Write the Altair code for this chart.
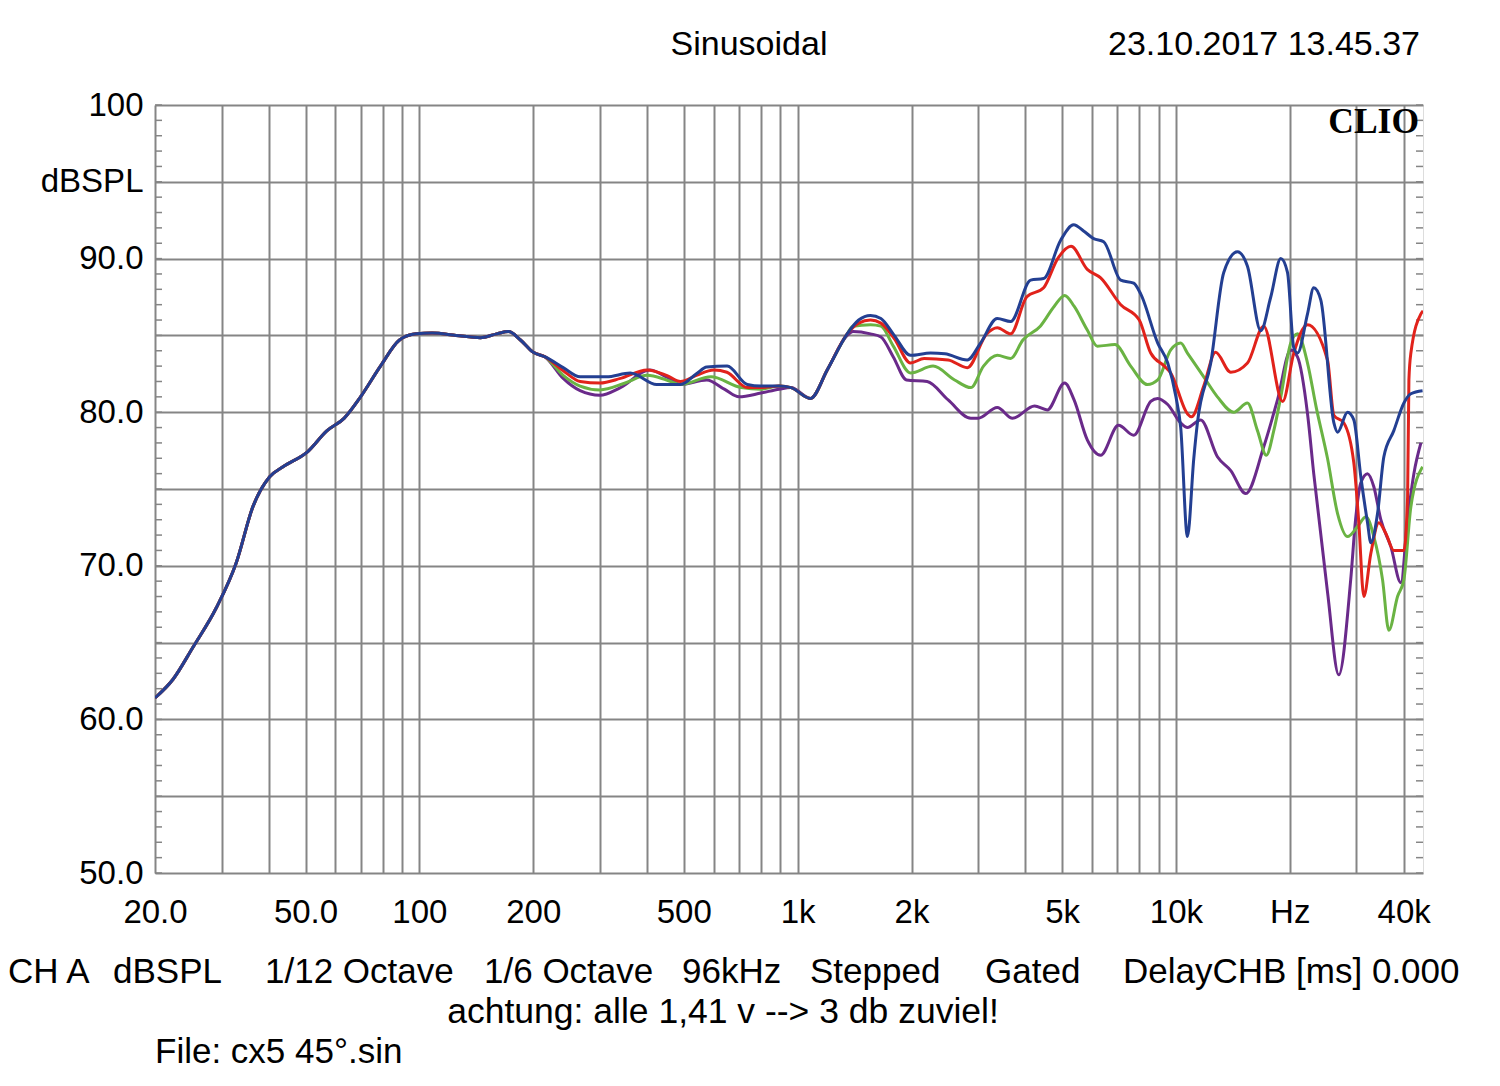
import altair as alt
import pandas as pd

# ---------------- data ----------------
freq_common = [20, 22.3, 25.2, 29.1, 32.8, 36.3, 40.2, 43.6, 50.5, 57, 63.2, 69.9, 78.9, 88.6, 98, 108, 125, 145, 160, 172, 185, 200]
db_common = [61.4, 62.6, 64.7, 67.3, 70.2, 73.85, 75.8, 76.45, 77.4, 78.8, 79.6, 81.0, 83.0, 84.7, 85.1, 85.15, 85.0, 84.85, 85.1, 85.25, 84.7, 83.9]

freq_blue = [215, 240, 266, 312, 361, 424, 490, 540, 575, 651, 736, 800, 894, 960, 1081, 1200, 1352, 1450, 1558, 1660,
             1800, 1988, 2246, 2450, 2808, 3044, 3370, 3656, 4130, 4470, 4958, 5366, 5700, 6060, 6442, 7146, 7734, 8070,
             8952, 9514, 10000, 10296, 10726, 11150, 11398, 12362, 13380, 14544, 15458, 16758, 17812, 18934, 19722,
             20494, 20960, 22280, 23140, 24160, 26158, 26752, 28432, 29534, 30820, 32106, 32754, 34120, 35460, 37680,
             40060, 41800, 44880]
db_blue = [83.6, 82.9, 82.3, 82.3, 82.55, 81.8, 81.8, 82.5, 82.95, 83.0, 81.8, 81.7, 81.7, 81.6, 80.9, 82.8, 85.1, 86.0,
           86.3, 86.1, 85.0, 83.7, 83.85, 83.8, 83.4, 84.5, 86.1, 85.9, 88.6, 88.7, 91.2, 92.2, 91.8, 91.3, 91.1, 88.6,
           88.4, 87.7, 84.5, 83.2, 81.0, 79.0, 71.9, 77.0, 79.3, 83.2, 89.1, 90.45, 89.5, 85.3, 87.5, 90.0, 89.1, 84.2,
           83.85, 86.4, 88.1, 87.3, 79.3, 78.7, 80.0, 79.5, 75.8, 72.8, 71.5, 73.4, 77.1, 78.8, 80.6, 81.2, 81.4]

freq_red = [215, 240, 266, 300, 340, 400, 450, 490, 540, 600, 650, 736, 800, 894, 960, 1081, 1200, 1352, 1450, 1558,
            1660, 1800, 1988, 2160, 2500, 2808, 3160, 3370, 3656, 4030, 4470, 4870, 5280, 5830, 6325, 7146, 8000, 8578,
            9320, 9690, 10726, 10990, 11846, 12730, 13964, 15458, 17068, 19150, 20494, 22280, 25160, 26158, 27800,
            29534, 30446, 31390, 32754, 34392, 35894, 37680, 40060, 40974, 41300, 41800, 44430, 45000]
db_red = [83.6, 82.7, 82.0, 81.9, 82.2, 82.75, 82.4, 82.0, 82.4, 82.75, 82.6, 81.6, 81.6, 81.7, 81.6, 80.9, 82.8, 85.1,
          85.8, 86.0, 85.8, 84.8, 83.2, 83.5, 83.4, 82.9, 85.1, 85.5, 85.1, 87.5, 88.1, 90.0, 90.8, 89.3, 88.75, 87.0,
          86.0, 83.85, 83.0, 82.55, 79.9, 79.7, 81.7, 83.9, 82.6, 83.2, 85.6, 80.7, 83.85, 85.7, 83.4, 79.8, 79.3, 76.7,
          72.8, 68.0, 70.8, 72.8, 72.1, 71.0, 71.0, 74.5, 82.1, 83.85, 86.4, 86.6]

freq_green = [215, 240, 266, 300, 350, 400, 450, 490, 590, 710, 800, 894, 960, 1081, 1200, 1352, 1400, 1558, 1660, 1790,
              1988, 2280, 2600, 2870, 3100, 3370, 3656, 3940, 4380, 4770, 5080, 5380, 5830, 6200, 6900, 7594, 8406,
              8952, 9690, 10296, 10726, 11846, 12874, 14222, 15458, 16428, 17340, 18144, 18934, 20120, 20960, 22280,
              23500, 25160, 26752, 28432, 30208, 31800, 33360, 35176, 36554, 38540, 40060, 41800, 44880]
db_green = [83.6, 82.4, 81.7, 81.45, 81.9, 82.4, 82.1, 81.8, 82.3, 81.6, 81.5, 81.7, 81.6, 80.9, 82.8, 85.1, 85.6, 85.7,
            85.6, 84.3, 82.55, 83.0, 82.1, 81.6, 83.0, 83.7, 83.5, 84.7, 85.6, 86.9, 87.6, 86.9, 85.35, 84.3, 84.4,
            83.0, 81.8, 82.1, 84.05, 84.5, 83.85, 82.3, 81.0, 80.0, 80.6, 78.8, 77.2, 78.8, 81.0, 84.5, 85.1, 83.2,
            80.3, 77.0, 73.4, 71.9, 72.55, 73.2, 71.9, 69.1, 65.8, 68.0, 69.1, 73.85, 76.45]

freq_purple = [215, 240, 266, 300, 340, 406, 450, 490, 575, 640, 700, 800, 894, 960, 1081, 1200, 1352, 1400, 1558, 1660,
               1790, 1940, 2200, 2500, 2870, 3000, 3370, 3700, 4230, 4570, 5080, 5380, 5830, 6325, 7050, 7734, 8578,
               8952, 9514, 10296, 10726, 11630, 12874, 13964, 15300, 17068, 18558, 20120, 20960, 22280, 23140, 25160,
               26950, 28980, 29850, 30820, 32106, 33360, 34812, 37000, 39330, 40974, 42570, 44430]
db_purple = [83.6, 82.2, 81.4, 81.1, 81.6, 82.75, 82.3, 81.8, 82.1, 81.5, 81.0, 81.25, 81.5, 81.6, 80.9, 82.8, 85.0,
             85.25, 85.1, 84.9, 83.6, 82.1, 82.0, 80.8, 79.6, 79.6, 80.3, 79.6, 80.4, 80.15, 81.9, 80.8, 78.2, 77.2,
             79.15, 78.5, 80.7, 80.9, 80.5, 79.3, 79.0, 79.5, 77.1, 76.2, 74.7, 77.75, 80.8, 84.05, 83.6, 79.9, 76.0,
             68.3, 62.9, 69.1, 73.0, 75.4, 76.0, 75.15, 73.0, 71.25, 68.9, 73.0, 76.0, 78.0]

# draw order: bottom to top
series_order = ["purple", "green", "red", "blue"]
series_colors = {"purple": "#6a2a8a", "green": "#6ab343", "red": "#e1221b", "blue": "#233f92"}
series_data = {
    "purple": (freq_purple, db_purple),
    "green": (freq_green, db_green),
    "red": (freq_red, db_red),
    "blue": (freq_blue, db_blue),
}

x_grid = [20, 30, 40, 50, 60, 70, 80, 90, 100, 200, 300, 400, 500, 600, 700, 800, 900,
          1000, 2000, 3000, 4000, 5000, 6000, 7000, 8000, 9000, 10000, 20000, 30000, 40000]
x_labels = {20: "20.0", 50: "50.0", 100: "100", 200: "200", 500: "500", 1000: "1k", 2000: "2k",
            5000: "5k", 10000: "10k", 20000: "Hz", 40000: "40k"}
y_grid = [50, 55, 60, 65, 70, 75, 80, 85, 90, 95, 100]
y_labels = {100: "100", 95: "dBSPL", 90: "90.0", 80: "80.0", 70: "70.0", 60: "60.0", 50: "50.0"}
minor_db = list(range(50, 101))

title_text = "Sinusoidal"
date_text = "23.10.2017 13.45.37"
brand_text = "CLIO"
footer_tokens = ["CH A", "dBSPL", "1/12 Octave", "1/6 Octave", "96kHz", "Stepped", "Gated", "DelayCHB [ms] 0.000"]
footer_starts = [-147, -42, 110, 329, 527, 655, 830, 968]
note_text = "achtung: alle 1,41 v --> 3 db zuviel!"
file_text = "File: cx5 45°.sin"

# ---------------- chart ----------------
W, H = 1268, 768
FONT = "Liberation Sans"
GRID = "#858585"


def label_expr(mapping):
    expr = "''"
    for k, v in reversed(list(mapping.items())):
        expr = f"datum.value == {k} ? '{v}' : ({expr})"
    return expr


x_scale = alt.Scale(type="log", domain=[20, 45000], nice=False)
y_scale = alt.Scale(domain=[50, 100], nice=False, zero=False)

x_axis = alt.Axis(values=x_grid, labelExpr=label_expr(x_labels), grid=True, ticks=False, tickSize=0,
                  domain=False, title=None, labelFont=FONT, labelFontSize=33, labelColor="black",
                  labelPadding=39, labelBaseline="middle", labelFlush=False, labelOverlap=False,
                  labelBound=False, gridColor=GRID, gridWidth=2, gridOpacity=1)
y_axis = alt.Axis(values=y_grid, labelExpr=label_expr(y_labels), grid=True, ticks=False, tickSize=0,
                  domain=False, title=None, labelFont=FONT, labelFontSize=33, labelColor="black",
                  labelPadding=12, labelBaseline="middle", labelAlign="right", labelFlush=False,
                  labelOverlap=False, labelBound=False, gridColor=GRID, gridWidth=2, gridOpacity=1)

X_ENC = alt.X("f:Q", scale=x_scale, axis=x_axis)
Y_ENC = alt.Y("db:Q", scale=y_scale, axis=y_axis)

frames = []
for name in series_order:
    f, d = series_data[name]
    frames.append(pd.DataFrame({"f": freq_common + f, "db": db_common + d, "s": name}))

base_grid = alt.Chart(pd.DataFrame({"f": [20, 45000], "db": [50, 100]})).mark_point(opacity=0).encode(
    x=X_ENC, y=Y_ENC,
)

minor_df = pd.DataFrame({"db": minor_db})
minor_left = alt.Chart(minor_df).mark_rule(color=GRID, strokeWidth=1.5).encode(
    y=Y_ENC, x=alt.value(0), x2=alt.value(7))
minor_right = alt.Chart(minor_df).mark_rule(color=GRID, strokeWidth=1.5).encode(
    y=Y_ENC, x=alt.value(W - 7), x2=alt.value(W))

lines = []
for df in frames:
    name = df["s"].iloc[0]
    lines.append(
        alt.Chart(df).mark_line(color=series_colors[name], strokeWidth=3, interpolate="monotone", clip=True).encode(
            x=X_ENC, y=Y_ENC, order=alt.Order("f:Q"),
        )
    )


def text_layer(txt, x, y, size=32, align="left", font=FONT, weight="normal"):
    return alt.Chart(pd.DataFrame({"t": [txt]})).mark_text(
        align=align, baseline="middle", font=font, fontSize=size, fontWeight=weight, color="black"
    ).encode(text="t:N", x=alt.value(x), y=alt.value(y))


texts = [
    text_layer(title_text, 594, -60, size=34, align="center"),
    text_layer(date_text, 1265, -60, size=34, align="right"),
    text_layer(brand_text, 1264, 17, size=35.5, align="right", font="Liberation Serif", weight="bold"),
    text_layer(note_text, 568, 907, size=35.5, align="center"),
    text_layer(file_text, 0, 947, size=35),
]
for tok, xs in zip(footer_tokens, footer_starts):
    texts.append(text_layer(tok, xs, 867, size=35))

chart = alt.layer(base_grid, minor_left, minor_right, *lines, *texts).properties(
    width=W, height=H,
    autosize=alt.AutoSizeParams(type="none"),
    padding={"left": 147, "top": 97, "right": 69, "bottom": 205},
).configure_view(stroke="#6a6a6a", strokeWidth=3).configure(background="white")

chart.save("out.html", embed_options={"renderer": "svg", "actions": False})
